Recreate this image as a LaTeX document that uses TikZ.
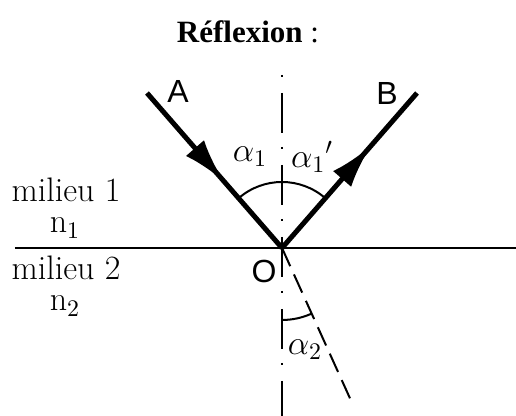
\documentclass[tikz,border=0pt]{standalone}
\usepackage{fix-cm}
\usepackage{fontspec}
\usetikzlibrary{arrows.meta,decorations.markings,angles}
\newfontfamily\titlefont{Liberation Serif}
\newfontfamily\labelfont{Liberation Sans}

\begin{document}
\begin{tikzpicture}
[x=0.5pt, y=0.5pt, font=\fontsize{17}{20}\selectfont]
\tikzstyle{ray}=[line width=2.5pt, postaction={decorate}]
\tikzstyle{pointname}=[font=\labelfont\fontsize{16}{18}\selectfont, inner sep=0pt]
\tikzstyle{anglename}=[inner sep=0pt]
\tikzstyle{normal}=[line width=1pt, dash pattern=on 1pt off 8pt on 20pt off 7pt]
\useasboundingbox (0,0) rectangle (516,416);

\coordinate (O)  at (282,168);
\coordinate (A)  at (147,323);
\coordinate (B)  at (417,323);
\coordinate (L)  at (15,168);
\coordinate (R)  at (516,168);
\coordinate (N1) at (282,341);
\coordinate (N2) at (282,0);
\coordinate (T)  at (353,11);

\node (title) at (248,384) {\titlefont\fontsize{15.5}{18}\selectfont{\bfseries Réflexion} :};

\node[pointname] (lA) at (178,324) {A};
\node[pointname] (lB) at (387,322) {B};
\node[pointname] (lO) at (264,145) {O};

\node[anglename] (a1)  at (250,259) {$\alpha_1$};
\node[anglename] (a1p) at (312,259) {$\alpha_1{}'$};
\node[anglename] (a2)  at (305,66)  {$\alpha_2$};

\node[anchor=base] (m1) at (66,214) {milieu 1};
\node[anchor=base] (n1) at (65,183) {$\mathrm{n}_1$};
\node[anchor=base] (m2) at (66,136) {milieu 2};
\node[anchor=base] (n2) at (65,105) {$\mathrm{n}_2$};

\draw [line width=1.3pt] (L)--(R);
\draw [normal] (N1)--(N2);
\draw [line width=1pt, dash pattern=on 10pt off 4.5pt] (O)--(T);
\draw [ray, decoration={markings, mark=at position 0.57 with {\arrow{Latex[length=22pt, width=12pt]}}}] (A)--(O);
\draw [ray, decoration={markings, mark=at position 0.66 with {\arrow{Latex[length=22pt, width=12pt]}}}] (O)--(B);
\pic [draw, line width=1pt, angle radius=33pt] {angle=B--O--A};
\pic [draw, line width=1pt, angle radius=36pt] {angle=N2--O--T};
\end{tikzpicture}
\end{document}
